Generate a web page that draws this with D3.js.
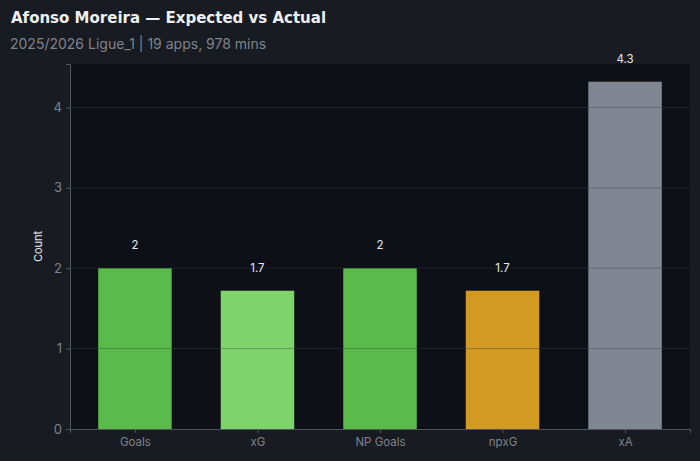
<!DOCTYPE html>
<html><head><meta charset="utf-8">
<script src="https://cdn.jsdelivr.net/npm/d3@7"></script>
<style>html,body{margin:0;padding:0;background:#181b22;}svg{display:block;}</style>
</head><body>
<script>
const categories = ["Goals","xG","NP Goals","npxG","xA"];
const values = [2, 1.72, 2, 1.72, 4.32];
const labels = ["2","1.7","2","1.7","4.3"];
const colors = ["#5aba4a","#7ed36a","#5aba4a","#d29a22","#808793"];
const yTicks = [0,1,2,3,4];

const W=700,H=461;
const m={left:70,right:10,top:64,bottom:32};
const svg=d3.select("body").append("svg").attr("width",W).attr("height",H);
svg.append("rect").attr("width",W).attr("height",H).attr("fill","#181b22");

svg.append("text").attr("x",11).attr("y",23).text("Afonso Moreira — Expected vs Actual")
  .attr("font-family","'DejaVu Sans', sans-serif").attr("font-weight",700).attr("font-size",15).attr("fill","#eef0f4");
svg.append("text").attr("x",10).attr("y",49).text("2025/2026 Ligue_1 | 19 apps, 978 mins")
  .attr("font-family","Inter, sans-serif").attr("font-size",14).attr("fill","#7f838c");

const x=d3.scaleLinear().domain([-0.53,4.53]).range([m.left,W-m.right]);
const y=d3.scaleLinear().domain([0,4.54]).range([H-m.bottom,m.top]);

svg.append("rect").attr("x",m.left).attr("y",m.top).attr("width",W-m.left-m.right).attr("height",H-m.top-m.bottom).attr("fill","#0d1017");

const bw=x(0.6)-x(0);
svg.selectAll("rect.bar").data(values).enter().append("rect").attr("class","bar")
  .attr("x",(d,i)=>x(i)-bw/2).attr("width",bw).attr("y",d=>y(d)).attr("height",d=>y(0)-y(d))
  .attr("fill",(d,i)=>colors[i]);

// grid
svg.selectAll("line.grid").data(yTicks.slice(1)).enter().append("line")
  .attr("x1",m.left).attr("x2",W-m.right).attr("y1",d=>y(d)).attr("y2",d=>y(d))
  .attr("stroke","#3a3f48").attr("stroke-opacity",0.4).attr("stroke-width",1);

svg.selectAll("text.val").data(values).enter().append("text")
  .attr("x",(d,i)=>x(i)).attr("y",d=>y(d)-19).attr("text-anchor","middle")
  .text((d,i)=>labels[i]).attr("font-family","Inter, sans-serif").attr("font-size",11.5).attr("fill","#e8eaee");

const ya=svg.append("g").attr("transform",`translate(${m.left},0)`)
  .call(d3.axisLeft(y).tickValues(yTicks).tickSize(4).tickPadding(4).tickFormat(d3.format("d")));
ya.select(".domain").attr("stroke","#50555e");
ya.selectAll(".tick line").attr("stroke","#50555e");
ya.selectAll("text").attr("fill","#7f838c").attr("font-family","Inter, sans-serif").attr("font-size",13);

const xa=svg.append("g").attr("transform",`translate(0,${H-m.bottom})`)
  .call(d3.axisBottom(x).tickValues(d3.range(categories.length)).tickSize(4).tickPadding(5).tickFormat(i=>categories[i]));
xa.select(".domain").attr("stroke","#50555e");
xa.selectAll(".tick line").attr("stroke","#50555e");
xa.selectAll("text").attr("fill","#7f838c").attr("font-family","Inter, sans-serif").attr("font-size",11.5);

svg.append("text").attr("transform",`translate(42,${(m.top+H-m.bottom)/2}) rotate(-90)`)
  .attr("text-anchor","middle").text("Count").attr("font-family","Inter, sans-serif").attr("font-size",11).attr("fill","#e8eaee");
</script>
</body></html>
